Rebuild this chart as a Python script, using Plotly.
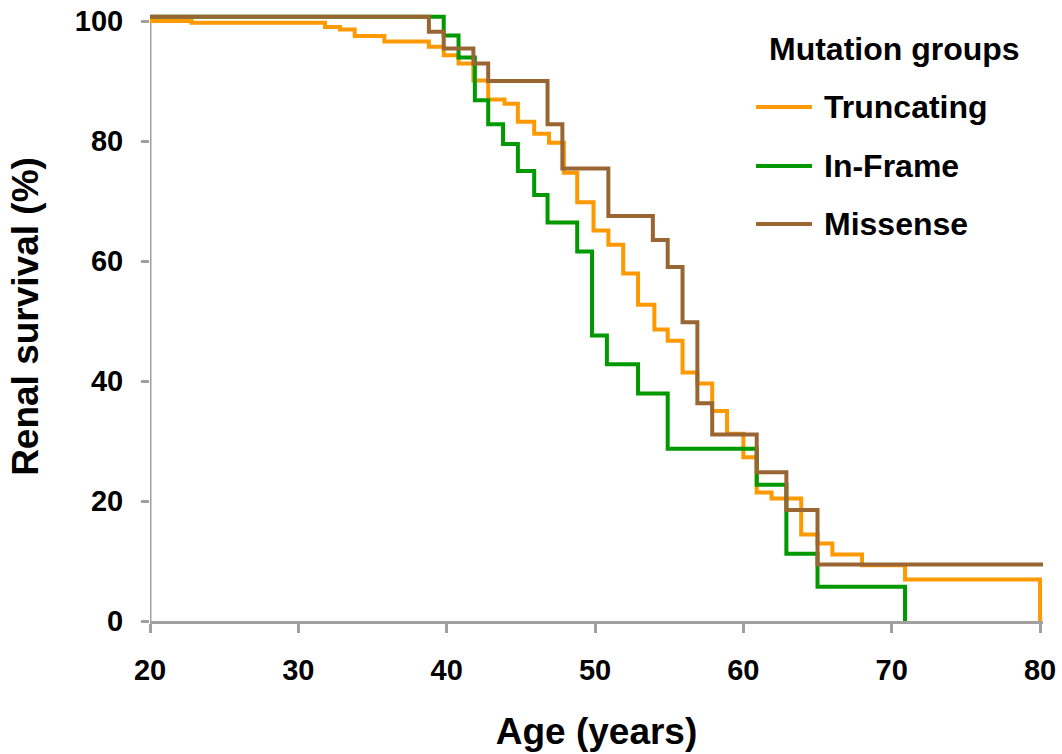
import plotly.graph_objects as go

# Kaplan-Meier renal survival by mutation group (age in years, survival in %)
group_names = ["Truncating", "In-Frame", "Missense"]
group_colors = ["#FF9900", "#009900", "#996633"]

truncating_age = [20, 22.8, 31.8, 32.8, 33.8, 35.8, 38.8, 39.8, 40.8, 41.8,
                  42.8, 43.9, 44.8, 45.9, 46.9, 47.9, 48.8, 49.9, 50.9, 51.9,
                  52.9, 54.0, 54.9, 55.9, 56.9, 57.9, 58.9, 60.0, 60.9, 61.9,
                  63.9, 65.0, 66.0, 68.0, 70.9, 80.0]
truncating_surv = [100, 99.7, 99.0, 98.6, 97.5, 96.6, 95.7, 94.3, 92.9, 90.1,
                   86.9, 86.2, 83.2, 81.2, 79.7, 74.7, 69.8, 65.1, 62.7, 57.9,
                   52.7, 48.6, 46.7, 41.4, 39.6, 35.0, 31.2, 27.3, 21.4, 20.4,
                   14.4, 12.9, 11.1, 9.3, 6.9, 0]

inframe_age = [20, 39.8, 40.8, 41.9, 42.8, 43.8, 44.8, 45.9, 46.8, 48.8,
               49.8, 50.8, 52.9, 54.9, 60.9, 62.9, 65.0, 70.9]
inframe_surv = [100.7, 97.6, 93.9, 86.8, 82.8, 79.5, 75.0, 71.0, 66.4, 61.6,
                47.6, 42.8, 37.9, 28.7, 22.7, 11.2, 5.7, 0]

missense_age = [20, 38.8, 39.8, 41.8, 42.8, 46.8, 47.8, 50.9, 53.9, 54.9,
                55.9, 56.9, 57.9, 60.9, 62.9, 65.0, 80.2]
missense_surv = [100.7, 98.2, 95.4, 92.9, 90.0, 82.8, 75.4, 67.5, 63.5, 59.0,
                 49.8, 36.3, 31.1, 24.8, 18.5, 9.4, 9.4]

x_ticks = [20, 30, 40, 50, 60, 70, 80]
y_ticks = [0, 20, 40, 60, 80, 100]

series = [
    (truncating_age, truncating_surv),
    (inframe_age, inframe_surv),
    (missense_age, missense_surv),
]

FONT = "Liberation Sans, Arial, sans-serif"
AXIS_GREY = "#A0A0A0"

fig = go.Figure()
for (ages, surv), name, color in zip(series, group_names, group_colors):
    fig.add_trace(go.Scatter(
        x=ages, y=surv, name=name, mode="lines",
        line=dict(color=color, width=4, shape="hv"),
        showlegend=False,
    ))

# vertical axis line, drawn from 0 to 100 only
fig.add_shape(type="line", xref="x", yref="y", x0=20, x1=20, y0=0, y1=100,
              line=dict(color=AXIS_GREY, width=3), layer="below")

# hand-placed legend: title, line samples and labels
PLOT_TOP, PLOT_H = 12, 609
def paper_y(py):
    return (PLOT_TOP + PLOT_H - py) / PLOT_H

fig.add_annotation(text="Mutation groups", xref="paper", yref="paper",
                   x=0.691, y=paper_y(49), xanchor="left", yanchor="middle",
                   showarrow=False,
                   font=dict(family=FONT, size=32, color="black", weight="bold"))
legend_y = [107, 166, 224]
for name, color, py in zip(group_names, group_colors, legend_y):
    yp = paper_y(py)
    fig.add_shape(type="line", xref="paper", yref="paper",
                  x0=0.6786, x1=0.7413, y0=yp, y1=yp,
                  line=dict(color=color, width=4))
    fig.add_annotation(text=name, xref="paper", yref="paper",
                       x=0.7525, y=yp, xanchor="left", yanchor="middle",
                       showarrow=False,
                       font=dict(family=FONT, size=32, color="black", weight="bold"))

fig.update_layout(
    width=1062, height=754,
    margin=dict(l=150, r=19, t=PLOT_TOP, b=754 - PLOT_TOP - PLOT_H),
    paper_bgcolor="white", plot_bgcolor="white",
    font=dict(family=FONT, color="black"),
)
fig.update_xaxes(
    range=[20, 80.2], tickvals=x_ticks, ticktext=[str(v) for v in x_ticks],
    automargin=False,
    showgrid=False, zeroline=False,
    showline=True, linecolor=AXIS_GREY, linewidth=3,
    ticks="outside", ticklen=9, tickwidth=3, tickcolor=AXIS_GREY,
    ticklabelstandoff=12,
    tickfont=dict(family=FONT, size=29, color="black", weight="bold"),
    title=dict(text="Age (years)", standoff=34,
               font=dict(family=FONT, size=37, color="black", weight="bold")),
)
fig.update_yaxes(
    range=[0, 101.5], tickvals=y_ticks, ticktext=[str(v) for v in y_ticks],
    automargin=False,
    showgrid=False, zeroline=False, showline=False,
    ticks="outside", ticklen=8, tickwidth=3, tickcolor=AXIS_GREY,
    ticklabelstandoff=12,
    tickfont=dict(family=FONT, size=29, color="black", weight="bold"),
    title=dict(text="Renal survival (%)", standoff=24,
               font=dict(family=FONT, size=37, color="black", weight="bold")),
)

fig.write_html("out.html")
